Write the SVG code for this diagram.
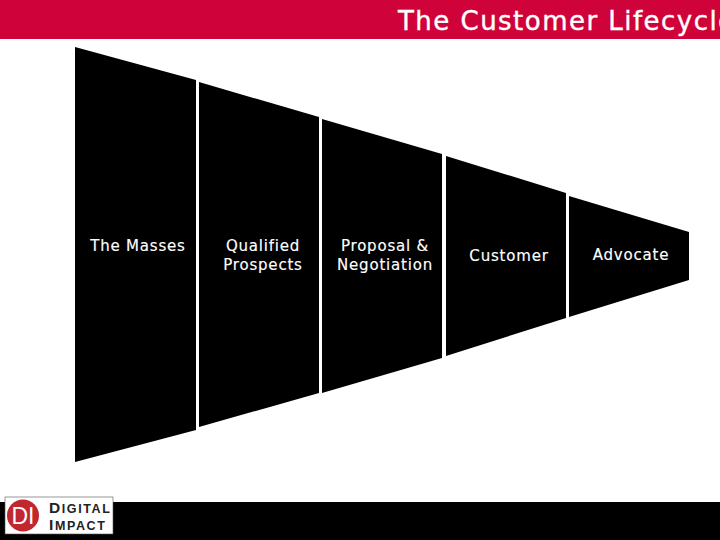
<svg xmlns="http://www.w3.org/2000/svg" width="720" height="540" viewBox="0 0 720 540">
<style>
.stage{fill:#000}
.label{font-family:"DejaVu Sans",sans-serif;font-size:15px;fill:#fff;stroke:#fff;stroke-width:.15px;text-anchor:middle;letter-spacing:.8px}
.logo{font-family:"Liberation Sans",sans-serif;font-weight:700;fill:#222;font-size:12.500px;letter-spacing:1.6px}
</style>
<rect width="720" height="540" fill="#fff"/>
<g id="header"><rect width="720" height="39" fill="#d0023a"/>
<text x="398" y="29.500" font-family="'DejaVu Sans',sans-serif" font-size="26" letter-spacing="1.47" fill="#fff" stroke="#fff" stroke-width=".4">The Customer Lifecycle</text></g>
<g id="footer"><rect y="502" width="720" height="38" fill="#000"/></g>
<g id="stage-masses"><polygon class="stage" points="75,47 196,80 196,430 75,462"/><text class="label" x="138" y="250.500">The Masses</text></g>
<g id="stage-prospects"><polygon class="stage" points="199,82 319,117 319,393 199,427"/><text class="label" x="263" y="250.500">Qualified</text><text class="label" x="263" y="269.500">Prospects</text></g>
<g id="stage-proposal"><polygon class="stage" points="322,119 442,154 442,358 322,393"/><text class="label" x="385" y="250.500">Proposal &amp;</text><text class="label" x="385" y="269.500">Negotiation</text></g>
<g id="stage-customer"><polygon class="stage" points="446,156 566,193 566,318 446,356"/><text class="label" x="509" y="260.500">Customer</text></g>
<g id="stage-advocate"><polygon class="stage" points="569,196 689,232 689,280 569,317"/><text class="label" x="631" y="259.500">Advocate</text></g>
<g id="logo"><rect x="5" y="497" width="108" height="37" fill="#fff" stroke="#555" stroke-width=".6"/>
<circle cx="23" cy="515.500" r="16" fill="#c0272f"/>
<text x="23" y="524" text-anchor="middle" font-family="'Liberation Sans',sans-serif" font-size="23" fill="#fff">DI</text>
<text class="logo" x="49" y="513"><tspan font-size="15.500">D</tspan>IGITAL</text>
<text class="logo" x="49" y="530"><tspan font-size="15.500">I</tspan>MPACT</text></g>
</svg>
